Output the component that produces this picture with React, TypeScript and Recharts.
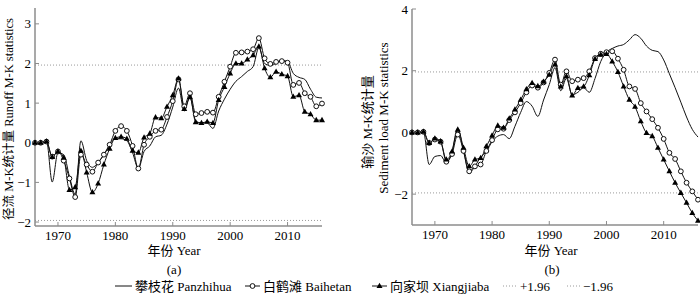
import React from "react";
import { LineChart, Line, XAxis, YAxis, ReferenceLine } from "recharts";

// 年份 1966–2016
const years = [
  1966, 1967, 1968, 1969, 1970, 1971, 1972, 1973, 1974, 1975,
  1976, 1977, 1978, 1979, 1980, 1981, 1982, 1983, 1984, 1985,
  1986, 1987, 1988, 1989, 1990, 1991, 1992, 1993, 1994, 1995,
  1996, 1997, 1998, 1999, 2000, 2001, 2002, 2003, 2004, 2005,
  2006, 2007, 2008, 2009, 2010, 2011, 2012, 2013, 2014, 2015, 2016,
];

// (a) 径流 M-K 统计量
const panzhihuaRunoff = [
  0, 0, 0.05, -0.99, -0.25, -0.3, -0.85, -1.3, 0.05, -0.45,
  -0.62, -0.5, -0.3, -0.05, 0.1, 0.1, 0.05, -0.25, -0.65, -0.22,
  -0.08, 0.15, 0.19, 0.47, 0.9, 1.38, 0.8, 1.15, 0.55, 0.5,
  0.5, 0.36, 0.8, 1.1, 1.35, 1.55, 1.67, 1.8, 1.92, 2.4,
  2.0, 1.95, 2.0, 2.08, 2.05, 1.75, 1.65, 1.6, 1.35, 1.15, 1.13,
];
const baihetanRunoff = [
  0, 0, 0.03, -0.35, -0.22, -0.45, -0.9, -1.37, -0.3, -0.55,
  -0.73, -0.5, -0.3, -0.05, 0.3, 0.42, 0.3, -0.08, -0.65, -0.05,
  0.15, 0.3, 0.33, 0.65, 1.05, 1.6, 0.92, 1.25, 0.72, 0.75,
  0.78, 0.76, 1.16, 1.54, 1.92, 2.27, 2.28, 2.3, 2.36, 2.64,
  2.13, 1.99, 2.04, 2.06, 2.02, 1.46, 1.51, 1.25, 1.16, 0.92, 0.99,
];
const xiangjiabaRunoff = [
  0, 0, 0.03, -0.36, -0.22, -0.38, -1.19, -1.12, -0.2, -0.75,
  -1.25, -1.03, -0.55, -0.15, 0.12, 0.15, 0.1, -0.2, -0.25, 0.13,
  0.23, 0.64, 0.62, 0.91, 1.2, 1.62, 0.85, 1.15, 0.52, 0.5,
  0.53, 0.5, 1.08, 1.41, 1.75, 2.0, 2.0, 2.1, 2.21, 2.43,
  1.88, 1.65, 1.79, 1.73, 1.68, 1.16, 1.2, 0.78, 0.72, 0.57, 0.57,
];

// (b) 输沙 M-K 统计量
const panzhihuaSediment = [
  0, 0, 0.02, -1.04, -0.78, -0.75, -1.0, -0.6, 0.14, -0.6,
  -1.31, -1.1, -0.8, -0.62, -0.3, -0.12, -0.07, -0.2, 0.2, 0.65,
  1.0, 0.85, 0.52, 1.05, 1.55, 2.1, 1.35, 1.75, 1.22, 1.3,
  1.45, 1.3, 1.75, 2.3, 2.6, 2.72, 2.8, 2.85, 3.0, 3.17,
  3.05, 2.8, 2.66, 2.62, 2.35, 1.9, 1.45, 0.98, 0.5, 0.1, -0.15,
];
const baihetanSediment = [
  0, 0, 0.02, -0.34, -0.23, -0.3, -0.95, -0.7, -0.07, -0.6,
  -1.26, -1.1, -1.04, -0.6, -0.25, 0.1, 0.12, 0.4, 0.65, 0.95,
  1.3, 1.52, 1.45, 1.62, 1.93, 2.36, 1.55, 1.98, 1.66, 1.71,
  1.76, 1.98, 2.41, 2.55, 2.6, 2.63, 2.39, 2.03, 1.49, 1.41,
  0.95, 0.68, 0.43, 0.15, -0.21, -0.66, -0.86, -1.26, -1.63, -1.91, -2.18,
];
const xiangjiabaSediment = [
  0, 0, 0.02, -0.34, -0.2, -0.29, -0.88, -0.62, 0.09, -0.5,
  -1.1, -0.88, -0.83, -0.45, -0.1, 0.22, 0.15, 0.45, 0.74, 1.06,
  1.4, 1.6, 1.5, 1.64, 1.87, 2.2, 1.49, 1.82, 1.2, 1.44,
  1.49, 1.85, 2.38, 2.52, 2.54, 2.3, 1.96, 1.49, 1.06, 0.83,
  0.36, -0.02, -0.12, -0.5, -0.88, -1.26, -1.63, -1.96, -2.28, -2.61, -2.86,
];

const yearTicks = [1970, 1980, 1990, 2000, 2010];
const runoffTicks = [-2, -1, 0, 1, 2, 3];
const sedimentTicks = [-2, 0, 2, 4];

const serif = '"Liberation Serif", "Times New Roman", "Noto Sans CJK SC", serif';
const axisColor = "#8c8c8c";
const refColor = "#9a9a9a";

function buildRows(p: number[], b: number[], x: number[]) {
  return years.map((year, i) => ({
    year,
    panzhihua: p[i],
    baihetan: b[i],
    xiangjiaba: x[i],
  }));
}

const minus = (v: number) => String(v).replace("-", "\u2212");

function TriangleDot(props: any) {
  const { cx, cy, index } = props;
  if (cx == null || cy == null) return null;
  return (
    <path
      key={`tri-${index}`}
      d={`M${cx},${cy - 3.3}L${cx + 3},${cy + 2}L${cx - 3},${cy + 2}Z`}
      fill="#000"
    />
  );
}

interface PanelProps {
  data: ReturnType<typeof buildRows>;
  width: number;
  yWidth: number;
  domain: [number, number];
  yTicks: number[];
  margin: { top: number; right: number; bottom: number; left: number };
}

function Panel({ data, width, yWidth, domain, yTicks, margin }: PanelProps) {
  const tickStyle = { fill: "#000", fontSize: 13, fontFamily: serif };
  return (
    <LineChart width={width} height={260} data={data} margin={margin}>
      <XAxis
        dataKey="year"
        type="number"
        domain={[1966, 2016]}
        ticks={yearTicks}
        height={25}
        tickSize={-4}
        tickMargin={9}
        axisLine={{ stroke: axisColor, strokeWidth: 1.5 }}
        tickLine={{ stroke: axisColor }}
        tick={tickStyle}
      />
      <YAxis
        type="number"
        domain={domain}
        ticks={yTicks}
        width={yWidth}
        tickSize={-4}
        tickMargin={8}
        tickFormatter={minus}
        axisLine={{ stroke: axisColor, strokeWidth: 1.5 }}
        tickLine={{ stroke: axisColor }}
        tick={tickStyle}
      />
      <ReferenceLine y={1.96} stroke={refColor} strokeDasharray="1 2" />
      <ReferenceLine y={-1.96} stroke={refColor} strokeDasharray="1 2" />
      {/* 攀枝花 — 细实线 */}
      <Line
        dataKey="panzhihua"
        type="monotone"
        stroke="#111"
        strokeWidth={1}
        dot={false}
        isAnimationActive={false}
      />
      {/* 白鹤滩 — 空心圆 */}
      <Line
        dataKey="baihetan"
        type="monotone"
        stroke="#111"
        strokeWidth={1}
        dot={{ r: 2.4, fill: "#fff", stroke: "#111", strokeWidth: 1 }}
        isAnimationActive={false}
      />
      {/* 向家坝 — 实心三角 */}
      <Line
        dataKey="xiangjiaba"
        type="monotone"
        stroke="#111"
        strokeWidth={1}
        dot={TriangleDot}
        isAnimationActive={false}
      />
    </LineChart>
  );
}

export default function App() {
  const runoff = buildRows(panzhihuaRunoff, baihetanRunoff, xiangjiabaRunoff);
  const sediment = buildRows(panzhihuaSediment, baihetanSediment, xiangjiabaSediment);
  const text = { fontFamily: serif, fontSize: 13, fill: "#000" };
  const legendY = 286;

  return (
    <div
      style={{
        position: "absolute",
        left: 0,
        top: 0,
        width: 700,
        height: 298,
        background: "#fff",
        overflow: "hidden",
      }}
    >
      <div style={{ position: "absolute", left: 0, top: 0 }}>
        <Panel
          data={runoff}
          width={340}
          yWidth={35}
          domain={[-2.1, 3.4]}
          yTicks={runoffTicks}
          margin={{ top: 8, right: 18, bottom: 9, left: 0 }}
        />
      </div>
      <div style={{ position: "absolute", left: 350, top: 0 }}>
        <Panel
          data={sediment}
          width={350}
          yWidth={62}
          domain={[-3, 4]}
          yTicks={sedimentTicks}
          margin={{ top: 9, right: 2, bottom: 10, left: 0 }}
        />
      </div>

      <svg
        width={700}
        height={298}
        style={{ position: "absolute", left: 0, top: 0, pointerEvents: "none" }}
      >
        {/* 纵轴标题 */}
        <text
          {...text}
          fontSize={12.5}
          textAnchor="middle"
          transform="translate(13,119) rotate(-90)"
        >
          径流 M-K统计量 Runoff M-K statistics
        </text>
        <text {...text} textAnchor="middle" transform="translate(372,122) rotate(-90)">
          输沙 M-K统计量
        </text>
        <text {...text} textAnchor="middle" transform="translate(388,118) rotate(-90)">
          Sediment load M-K statistics
        </text>

        {/* 横轴标题与分图编号 */}
        <text {...text} textAnchor="middle" x={174} y={255}>
          年份 Year
        </text>
        <text {...text} textAnchor="middle" x={174} y={274}>
          (a)
        </text>
        <text {...text} textAnchor="middle" x={551} y={255}>
          年份 Year
        </text>
        <text {...text} textAnchor="middle" x={552} y={274}>
          (b)
        </text>

        {/* 图例 */}
        <line x1={115} x2={132} y1={legendY} y2={legendY} stroke="#111" />
        <text {...text} x={135} y={legendY + 4.5}>
          攀枝花 Panzhihua
        </text>

        <line x1={245} x2={260} y1={legendY} y2={legendY} stroke="#111" />
        <circle cx={252.5} cy={legendY} r={2.4} fill="#fff" stroke="#111" />
        <text {...text} x={263} y={legendY + 4.5}>
          白鹤滩 Baihetan
        </text>

        <line x1={372} x2={387} y1={legendY} y2={legendY} stroke="#111" />
        <path
          d={`M379.5,${legendY - 3.3}L382.5,${legendY + 2}L376.5,${legendY + 2}Z`}
          fill="#000"
        />
        <text {...text} x={390} y={legendY + 4.5}>
          向家坝 Xiangjiaba
        </text>

        <line
          x1={503}
          x2={517}
          y1={legendY}
          y2={legendY}
          stroke={refColor}
          strokeDasharray="1 2"
        />
        <text {...text} x={520} y={legendY + 4.5}>
          +1.96
        </text>

        <line
          x1={567}
          x2={580}
          y1={legendY}
          y2={legendY}
          stroke={refColor}
          strokeDasharray="1 2"
        />
        <text {...text} x={583} y={legendY + 4.5}>
          {"\u22121.96"}
        </text>
      </svg>
    </div>
  );
}
